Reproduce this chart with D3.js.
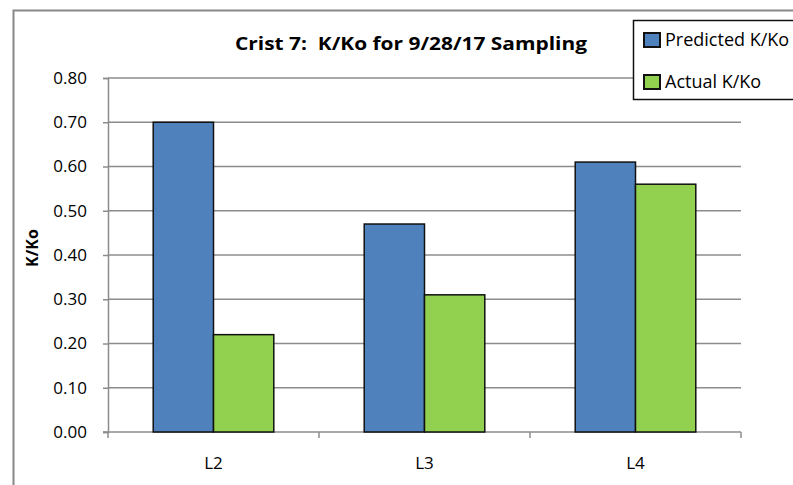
<!DOCTYPE html>
<html>
<head>
    <script src="https://d3js.org/d3.v7.min.js"></script>
    <style>
        body { margin: 0; background: #fff; }
        text { font-family: "Open Sans", "Liberation Sans", sans-serif; fill: #000; }
    </style>
</head>
<body>
<svg id="chart" width="793" height="485"></svg>
<script>
    // chart data
    const categories = ["L2", "L3", "L4"];
    const seriesNames = ["Predicted K/Ko", "Actual K/Ko"];
    const predicted = [0.70, 0.47, 0.61];
    const actual = [0.22, 0.31, 0.56];
    const yTicks = [0, 0.1, 0.2, 0.3, 0.4, 0.5, 0.6, 0.7, 0.8];
    const colors = ["#4f81bd", "#92d050"];

    const svg = d3.select("#chart");
    const plotLeft = 108, plotRight = 741, plotTop = 78, plotBottom = 432;

    // outer chart frame
    svg.append("rect")
        .attr("x", 13.5).attr("y", 10.5)
        .attr("width", 800).attr("height", 500)
        .attr("fill", "none").attr("stroke", "#888").attr("stroke-width", 2);

    let x = d3.scaleBand().domain(categories).range([plotLeft, plotRight]);
    let y = d3.scaleLinear().domain([0, 0.8]).range([plotBottom, plotTop]);
    let barW = x.bandwidth() / 3.5;

    // gridlines
    svg.append("g").selectAll("line")
        .data(yTicks.slice(1))
        .enter().append("line")
        .attr("x1", plotLeft).attr("x2", plotRight)
        .attr("y1", d => y(d)).attr("y2", d => y(d))
        .attr("stroke", "#8c8c8c").attr("stroke-width", 1.5);

    // y axis
    let yAxis = svg.append("g")
        .attr("transform", "translate(" + plotLeft + ",0)")
        .call(d3.axisLeft(y).tickValues(yTicks).tickFormat(d3.format(".2f")).tickSize(5).tickPadding(16));
    yAxis.selectAll("path, line").attr("stroke", "#8c8c8c").attr("stroke-width", 1.5);
    yAxis.selectAll("text").style("font-size", "17px").attr("fill", "#000");

    // x axis
    let xAxis = svg.append("g")
        .attr("transform", "translate(0," + plotBottom + ")")
        .call(d3.axisBottom(x).tickSize(0).tickPadding(25));
    xAxis.select("path").remove();
    xAxis.selectAll("text").style("font-size", "17px").attr("fill", "#000");
    svg.append("line")
        .attr("x1", plotLeft - 5).attr("x2", plotRight)
        .attr("y1", plotBottom).attr("y2", plotBottom)
        .attr("stroke", "#8c8c8c").attr("stroke-width", 1.5);
    // category boundary ticks
    svg.append("g").selectAll("line")
        .data(categories.map(c => x(c)).concat([plotRight]))
        .enter().append("line")
        .attr("x1", d => d).attr("x2", d => d)
        .attr("y1", plotBottom).attr("y2", plotBottom + 6)
        .attr("stroke", "#8c8c8c").attr("stroke-width", 1.5);

    // bars
    let series = [predicted, actual];
    series.forEach(function (vals, s) {
        svg.append("g").selectAll("rect")
            .data(vals)
            .enter().append("rect")
            .attr("x", (d, i) => x(categories[i]) + barW * 0.75 + s * barW)
            .attr("y", d => y(d))
            .attr("width", barW)
            .attr("height", d => y(0) - y(d))
            .attr("fill", colors[s])
            .attr("stroke", "#111").attr("stroke-width", 1.5);
    });

    // title
    svg.append("text")
        .attr("x", 411).attr("y", 50)
        .attr("text-anchor", "middle")
        .attr("textLength", 352).attr("lengthAdjust", "spacingAndGlyphs")
        .style("font-size", "17px").style("font-weight", "bold")
        .style("white-space", "pre")
        .text("Crist 7:  K/Ko for 9/28/17 Sampling");

    // y axis title
    svg.append("text")
        .attr("transform", "translate(38,248) rotate(-90)")
        .attr("text-anchor", "middle")
        .style("font-size", "16px").style("font-weight", "bold")
        .text("K/Ko");

    // legend
    let legend = svg.append("g");
    legend.append("rect")
        .attr("x", 633.5).attr("y", 20.5)
        .attr("width", 180).attr("height", 79)
        .attr("fill", "#fff").attr("stroke", "#111").attr("stroke-width", 1.5);
    seriesNames.forEach(function (name, i) {
        legend.append("rect")
            .attr("x", 644).attr("y", 33 + i * 42)
            .attr("width", 16).attr("height", 14)
            .attr("fill", colors[i]).attr("stroke", "#111").attr("stroke-width", 2);
        legend.append("text")
            .attr("x", 665).attr("y", 46 + i * 42)
            .style("font-size", "18px")
            .text(name);
    });
</script>
</body>
</html>
